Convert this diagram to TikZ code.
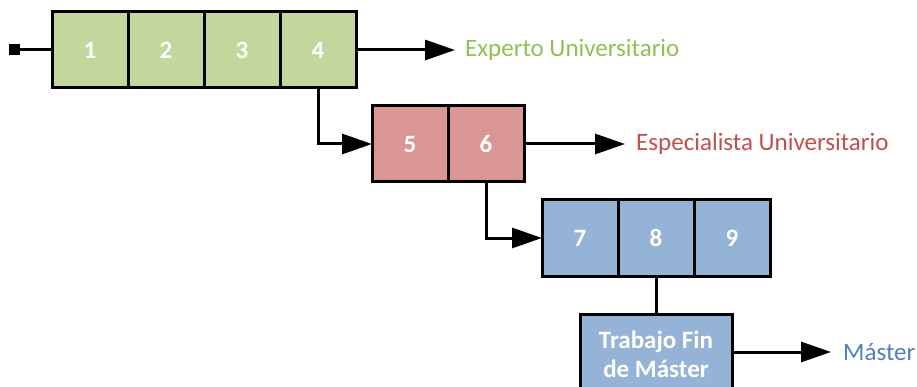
\documentclass[tikz,border=0pt]{standalone}
\usepackage{fontspec}
\setmainfont{Carlito}
\usetikzlibrary{positioning, arrows.meta}

\definecolor{cellgreen}{RGB}{195,214,155}
\definecolor{cellred}{RGB}{217,150,148}
\definecolor{cellblue}{RGB}{149,179,215}
\definecolor{txtgreen}{RGB}{146,192,80}
\definecolor{txtred}{RGB}{192,80,77}
\definecolor{txtblue}{RGB}{79,129,189}

\tikzset{
  cell/.style={draw, line width=3pt, minimum width=76pt, minimum height=76pt,
               inner sep=0pt, outer sep=0pt, text=white, font=\fontsize{25}{29}\selectfont\bfseries},
  link/.style={line width=3pt, -{Triangle[length=30pt,width=20pt]}},
  label/.style={anchor=west, inner sep=0pt, font=\fontsize{25}{29}\selectfont},
}

\begin{document}
\begin{tikzpicture}[x=1pt, y=-1pt]
\useasboundingbox (0,0) rectangle (917,387);
\clip (0,0) rectangle (917,387);
% first block
\foreach \n [count=\i] in {1,...,4}
  \node[cell, fill=cellgreen] (c\n) at ({90+76*(\i-1)},50) {\n};
\node[label, text=txtgreen] (experto) at (465,50) {Experto Universitario};
\node[fill, minimum size=11pt, inner sep=0pt] (start) at (14,50) {};
\draw[line width=3pt] (start) -- (c1);
\draw[link] (c4.east) -- ([xshift=-10pt]experto.west);
% second block
\foreach \n [count=\i] in {5,6}
  \node[cell, fill=cellred] (c\n) at ({410+76*(\i-1)},144) {\n};
\node[label, text=txtred] (especialista) at (636,144) {Especialista Universitario};
\draw[link] (c4.south) |- (c5.west);
\draw[link] (c6.east) -- ([xshift=-11pt]especialista.west);
% third block
\foreach \n [count=\i] in {7,8,9}
  \node[cell, fill=cellblue] (c\n) at ({580+76*(\i-1)},238) {\n};
\draw[link] (c6.south) |- (c7.west);
\node[cell, fill=cellblue, minimum width=152pt, minimum height=80pt, align=center]
  (tfm) at (656,354) {Trabajo Fin\\de Máster};
\node[label, text=txtblue] (master) at (843,352) {Máster};
\draw[line width=3pt] (c8.south) -- (tfm.north);
\draw[link] (tfm.east |- master) -- ([xshift=-12pt]master.west);
\end{tikzpicture}
\end{document}
